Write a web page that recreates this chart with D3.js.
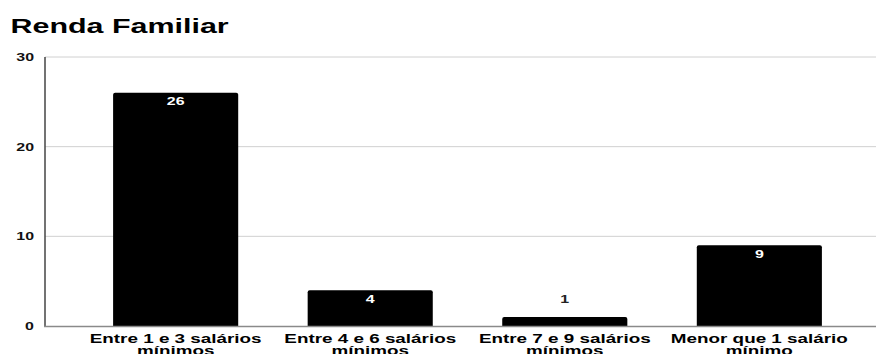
<!DOCTYPE html>
<html>
<head>
<meta charset="utf-8">
<script src="https://cdn.jsdelivr.net/npm/d3@7"></script>
<style>
  html, body { margin: 0; padding: 0; background: #fff; }
  svg { display: block; }
  text { font-family: "Liberation Sans", Arial, sans-serif; font-weight: bold; }
</style>
</head>
<body>
<svg id="chart" width="877" height="354"></svg>
<script>
// Income brackets and respondent counts
const categories = [
  ["Entre 1 e 3 salários", "mínimos"],
  ["Entre 4 e 6 salários", "mínimos"],
  ["Entre 7 e 9 salários", "mínimos"],
  ["Menor que 1 salário", "mínimo"]
];
const values = [26, 4, 1, 9];
const yTicks = [0, 10, 20, 30];
const title = "Renda Familiar";

const SX = 1.45; // horizontal stretch applied to all text
const plotLeft = 45, gridRight = 876, plotTop = 57, plotBottom = 326;

const svg = d3.select("#chart");

const x = d3.scaleBand()
  .domain(d3.range(categories.length))
  .range([plotLeft, 890])
  .paddingInner(0.357)
  .paddingOuter(0.35);

const y = d3.scaleLinear().domain([0, 30]).range([plotBottom, plotTop]);

function stretched(sel, tx, ty) {
  return sel.attr("transform", `translate(${tx},${ty}) scale(${SX},1)`);
}

// Title
stretched(svg.append("text"), 10.5, 33)
  .attr("font-size", 21)
  .attr("fill", "#000")
  .text(title);

// Gridlines
svg.append("g").selectAll("line")
  .data(yTicks.filter(d => d !== 0))
  .join("line")
  .attr("x1", plotLeft).attr("x2", gridRight)
  .attr("y1", d => y(d)).attr("y2", d => y(d))
  .attr("stroke", "#d0d0d0").attr("stroke-width", 1);

// Y tick labels
svg.append("g").selectAll("text")
  .data(yTicks)
  .join("text")
  .each(function(d) { stretched(d3.select(this), 34, y(d) + 4); })
  .attr("text-anchor", "end")
  .attr("font-size", 11)
  .attr("fill", "#111")
  .text(d => d);

// Bars with slightly rounded top corners
const r = 2;
svg.append("g").selectAll("path")
  .data(values)
  .join("path")
  .attr("fill", "#000")
  .attr("d", (d, i) => {
    const x0 = x(i), x1 = x(i) + x.bandwidth();
    const yt = y(d), yb = y(0);
    return `M${x0},${yb}V${yt + r}Q${x0},${yt} ${x0 + r},${yt}H${x1 - r}Q${x1},${yt} ${x1},${yt + r}V${yb}Z`;
  });

// Value labels: inside the bar when it is tall enough, above otherwise
svg.append("g").selectAll("text")
  .data(values)
  .join("text")
  .each(function(d, i) {
    const cx = x(i) + x.bandwidth() / 2;
    const inside = y(0) - y(d) > 20;
    stretched(d3.select(this), cx, inside ? y(d) + 12.5 : y(d) - 14.5)
      .attr("fill", inside ? "#fff" : "#222");
  })
  .attr("text-anchor", "middle")
  .attr("font-size", 11)
  .text(d => d);

// Axis lines
svg.append("line")
  .attr("x1", plotLeft).attr("x2", plotLeft)
  .attr("y1", plotTop).attr("y2", plotBottom)
  .attr("stroke", "#444").attr("stroke-width", 1.5);
svg.append("line")
  .attr("x1", plotLeft - 1).attr("x2", gridRight)
  .attr("y1", plotBottom + 0.5).attr("y2", plotBottom + 0.5)
  .attr("stroke", "#8a8a8a").attr("stroke-width", 1.5);

// Category labels (two lines each)
svg.append("g").selectAll("g")
  .data(categories)
  .join("g")
  .each(function(lines, i) {
    const cx = x(i) + x.bandwidth() / 2;
    lines.forEach((line, k) => {
      stretched(d3.select(this).append("text"), cx, 343 + k * 11.5)
        .attr("text-anchor", "middle")
        .attr("font-size", 13)
        .attr("fill", "#000")
        .text(line);
    });
  });
</script>
</body>
</html>
